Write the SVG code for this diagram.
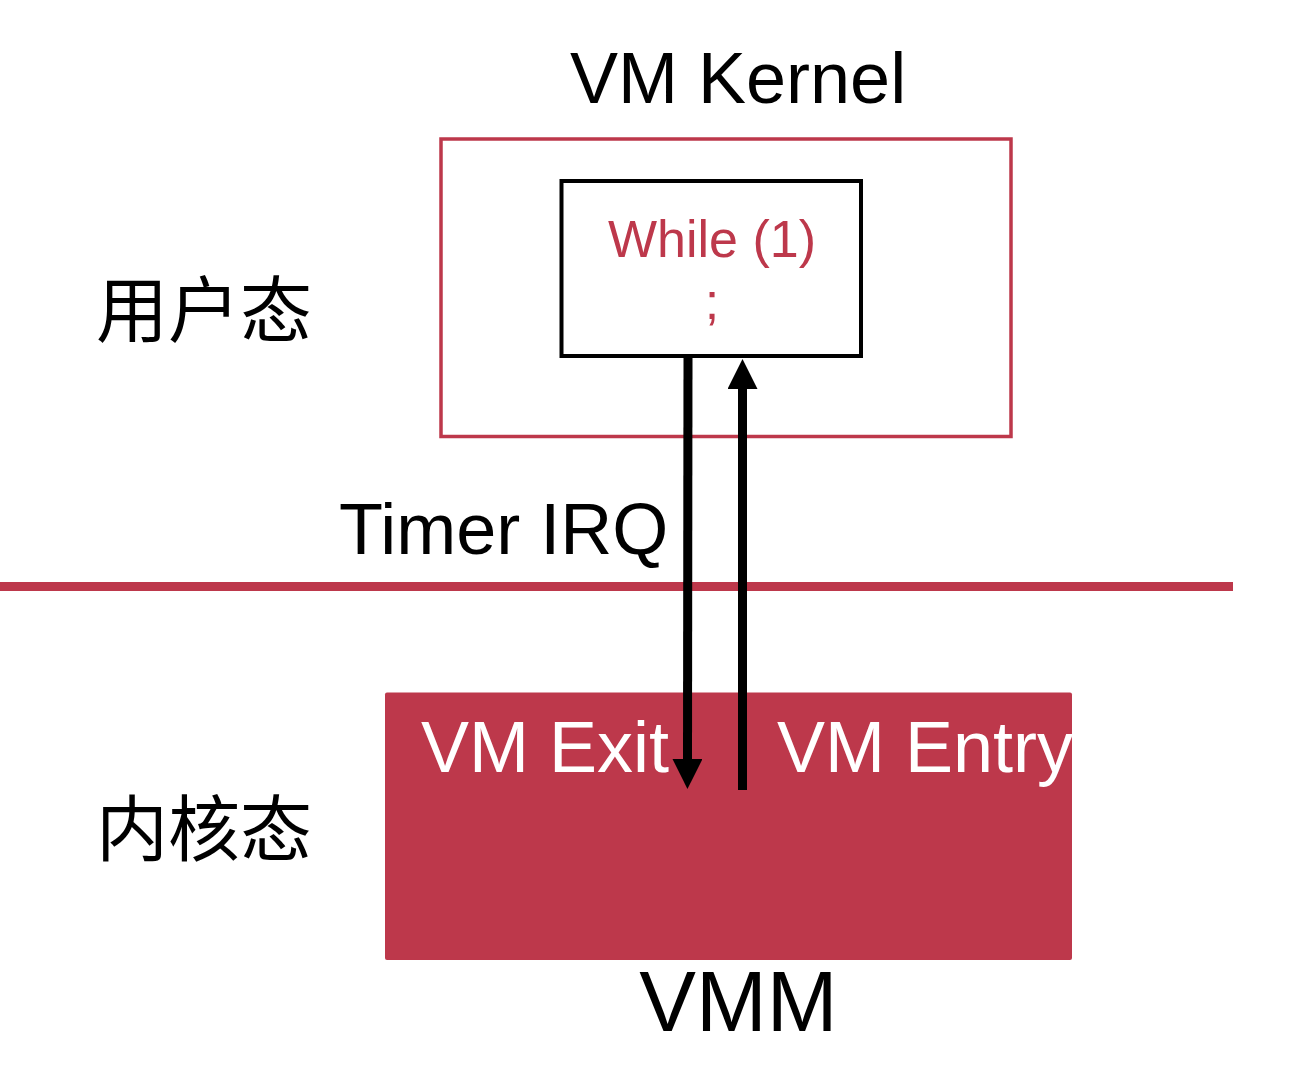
<svg xmlns="http://www.w3.org/2000/svg" width="1294" height="1070" viewBox="0 0 1294 1070">
  <style>
    .lat { font-family: "Liberation Sans", Arial, sans-serif; }
    .cjk { font-family: "Noto Sans CJK SC", "Noto Sans", sans-serif; font-size: 72px; fill: #000; }
    .big { font-size: 72px; fill: #000; }
    .white { font-size: 72px; fill: #fff; }
    .code { font-size: 52px; fill: #BD384B; text-anchor: middle; }
    .conn { stroke: #000; stroke-width: 9; fill: none; }
  </style>
  <defs>
    <marker id="ah" viewBox="0 0 30 30" refX="0" refY="15" markerWidth="30" markerHeight="30" markerUnits="userSpaceOnUse" orient="auto">
      <path d="M0,0 L30,15 L0,30 Z" fill="#000"/>
    </marker>
  </defs>
  <rect width="1294" height="1070" fill="#fff"/>

  <g id="label-vm-kernel">
    <text class="lat big" x="570" y="103">VM Kernel</text>
  </g>

  <g id="vm-kernel-box">
    <rect x="441" y="139" width="570" height="297.5" fill="none" stroke="#BD384B" stroke-width="3.5"/>
  </g>

  <g id="while-loop">
    <rect x="561.5" y="181" width="299.5" height="175" fill="#fff" stroke="#000" stroke-width="4"/>
    <text class="lat code" x="712" y="257">While (1)</text>
    <text class="lat code" x="712" y="319">;</text>
  </g>

  <g id="label-user-mode">
    <text class="cjk" x="96" y="336">用户态</text>
  </g>

  <g id="label-kernel-mode">
    <text class="cjk" x="96" y="855">内核态</text>
  </g>

  <g id="divider">
    <line x1="0" y1="586.5" x2="1233" y2="586.5" stroke="#BD384B" stroke-width="9"/>
  </g>

  <g id="label-timer-irq">
    <text class="lat big" x="339" y="554">Timer IRQ</text>
  </g>

  <g id="vmm">
    <rect x="385" y="692.5" width="687" height="267.5" rx="2" fill="#BD384B"/>
    <text class="lat white" x="421" y="772">VM Exit</text>
    <text class="lat white" x="777" y="772">VM Entry</text>
    <text class="lat big" x="738.5" y="1031" font-size="85" style="font-size:85px" text-anchor="middle">VMM</text>
  </g>

  <g id="connectors">
    <line class="conn" x1="688" y1="356" x2="687.5" y2="759" marker-end="url(#ah)"/>
    <line class="conn" x1="742.5" y1="790" x2="742.5" y2="389" marker-end="url(#ah)"/>
  </g>
</svg>
